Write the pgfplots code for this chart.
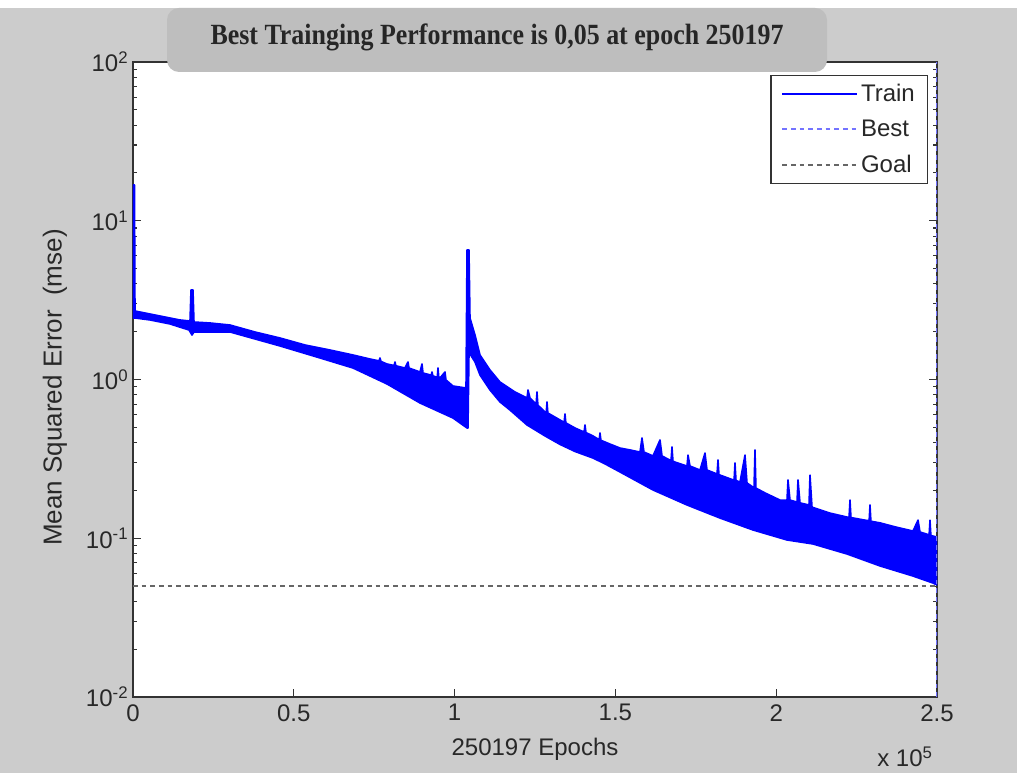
\documentclass[border=0pt]{standalone}
\usepackage{fontspec}
\setmainfont{Liberation Sans}
\newfontfamily\titlefont{Liberation Serif}
\usepackage{graphicx}
\usepackage{pgfplots}
\pgfplotsset{compat=1.18}
\definecolor{figgray}{RGB}{204,204,204}
\definecolor{titlegray}{RGB}{190,190,190}
\definecolor{mblue}{RGB}{0,0,255}
\definecolor{txt}{RGB}{40,40,40}
\newcommand{\tfont}{\fontsize{18}{21}\selectfont}
\begin{document}
\begin{tikzpicture}
\fill[white] (0pt,0pt) rectangle (762.75pt,579.75pt);
\fill[figgray] (0pt,0pt) rectangle (762.75pt,573.75pt);
\begin{axis}[
  at={(99.75pt,57pt)}, anchor=south west, scale only axis,
  width=603pt, height=476.25pt,
  ymode=log, xmin=0, xmax=250000, ymin=0.01, ymax=100,
  axis background/.style={fill=white},
  axis line style={black!80, line width=0.8pt},
  tick style={black!80, line width=0.8pt},
  tick align=inside,
  major tick length=6pt, minor tick length=3pt,
  xtick={0,50000,100000,150000,200000,250000},
  xticklabels={0,0.5,1,1.5,2,2.5},
  scaled x ticks=false,
  ytick={0.01,0.1,1,10,100},
  yticklabels={10\textsuperscript{-2},10\textsuperscript{-1},10\textsuperscript{0},10\textsuperscript{1},10\textsuperscript{2}},
  minor ytick={0.02,0.03,0.04,0.05,0.06,0.07,0.08,0.09,0.2,0.3,0.4,0.5,0.6,0.7,0.8,0.9,2,3,4,5,6,7,8,9,20,30,40,50,60,70,80,90},
  ticklabel style={font=\tfont, text=txt},
  xticklabel style={yshift=-2pt},
  xlabel={250197 Epochs},
  ylabel={Mean Squared Error\ \ (mse)},
  label style={font=\tfont, text=txt},
  xlabel style={at={(axis description cs:0.5,0)}, anchor=center, yshift=-39pt},
  ylabel style={at={(axis description cs:0,0.5)}, anchor=center, yshift=58.5pt, xshift=-6pt, font=\fontsize{19.5}{22}\selectfont},
  legend style={at={(rel axis cs:1,1)}, anchor=north east, xshift=-6.75pt, yshift=-9.75pt,
    draw=black!80, line width=0.8pt, fill=white, font=\tfont, text=txt,
    row sep=8.5pt, inner xsep=7.5pt, inner ysep=4.5pt, cells={anchor=west}},
  legend image code/.code={\draw[#1] (0pt,0pt) -- (56pt,0pt);},
]
\addplot[fill=mblue, draw=mblue, line width=1.2pt, line join=round, forget plot] coordinates {
(0,16.8) (466,16.8) (622,2.701) (5286,2.586) (8396,2.512) (11505,2.440) (14614,2.371)
(17724,2.336) (18035,3.663) (18657,3.663) (18968,2.302) (23943,2.270) (30162,2.204)
(37935,1.992) (45709,1.826) (53483,1.650) (61256,1.534) (68408,1.427) (73694,1.346)
(76500,1.31) (76803,1.366) (77100,1.30)
(78980,1.252)
(81200,1.225) (81467,1.289) (81750,1.22)
(84577,1.181) (85510,1.289) (85821,1.181) (89241,1.115) (89863,1.252)
(90174,1.099)
(92700,1.065) (92972,1.115) (93250,1.055)
(94600,1.03) (94838,1.181) (95100,1.025)
(95460,1.022) (97015,1.115) (97326,0.993) (99502,0.910) (103545,0.884)
(103856,6.544) (104478,6.544) (104789,2.440) (106343,1.907) (107898,1.427) (111007,1.148)
(114117,0.964) (118781,0.834) (122512,0.765) (122823,0.859) (123445,0.765)
(125350,0.70) (125622,0.834) (125900,0.69)
(128109,0.624)
(128500,0.62) (128731,0.722) (129000,0.615)
(132774,0.556)
(134050,0.537) (134329,0.606) (134600,0.533)
(137438,0.495)
(140250,0.467) (140548,0.517) (140850,0.463)
(143035,0.441)
(144950,0.418) (145213,0.460) (145500,0.414)
(148321,0.392) (151430,0.370) (154540,0.360)
(157649,0.349) (158271,0.428) (158893,0.349) (161691,0.330) (163868,0.416) (164490,0.330)
(167300,0.308) (167598,0.376) (167900,0.306)
(168532,0.302) (172264,0.285) (172575,0.334) (173197,0.285) (176306,0.269) (177861,0.344)
(178483,0.269)
(181600,0.254) (181903,0.311) (182200,0.252)
(182525,0.250)
(186900,0.232) (187189,0.298) (187500,0.231)
(188744,0.226) (190299,0.334) (190921,0.223) (192786,0.210)
(193100,0.208) (193408,0.360) (193700,0.207)
(196518,0.193) (201181,0.174) (203358,0.174) (203669,0.233) (204291,0.174) (206468,0.169)
(206779,0.233) (207400,0.167) (210199,0.162) (210510,0.250) (211132,0.157) (216729,0.144)
(222015,0.136)
(222650,0.135) (222948,0.174) (223250,0.135)
(227612,0.130)
(228900,0.129) (229167,0.162) (229450,0.128)
(232276,0.125) (236940,0.118) (242537,0.111) (244092,0.130)
(244714,0.1095)
(247550,0.105) (247823,0.130) (248100,0.104)
(250000,0.1018)
(250000,0.0508) (248756,0.0522) (242537,0.0578) (232276,0.0669) (222015,0.0796)
(211443,0.0920) (203358,0.0975) (192786,0.1127) (182525,0.134) (172264,0.162)
(161691,0.2014) (151430,0.2614) (146766,0.294) (143035,0.320) (137438,0.352)
(132774,0.390) (128109,0.441) (122512,0.517) (117226,0.642)
(114117,0.722) (111007,0.859) (107898,1.067) (106343,1.289) (104789,1.447)
(104478,1.447) (104167,0.495) (103856,0.495)
(99502,0.572) (89241,0.711) (78980,0.937) (68408,1.181) (58147,1.366) (45709,1.626)
(30162,1.992) (18968,1.992) (18346,1.907) (17413,2.050) (11505,2.237) (5286,2.371)
(622,2.440) (0,2.440)
} -- cycle;
\addlegendimage{mblue, line width=2pt}
\addlegendentry{Train}
\addplot[blue!55, dash pattern=on 3.5pt off 3pt, line width=1.5pt] coordinates {(250000,0.01) (250000,100)};
\addlegendentry{Best}
\addplot[black!60, dash pattern=on 3.5pt off 3pt, line width=1.5pt] coordinates {(0,0.05) (250000,0.05)};
\addlegendentry{Goal}
\end{axis}
\fill[titlegray, rounded corners=9pt] (125.25pt,525.75pt) rectangle (620.25pt,573.75pt);
\node[text=black!85, inner sep=0pt] at (372.75pt,552pt)
  {\resizebox{429.75pt}{\height}{\titlefont\bfseries\fontsize{22}{24}\selectfont Best Trainging Performance is 0,05 at epoch 250197}};
\node[text=txt, font=\tfont, inner sep=0pt] at (678.75pt,12pt) {x 10\textsuperscript{5}};
\end{tikzpicture}
\end{document}
